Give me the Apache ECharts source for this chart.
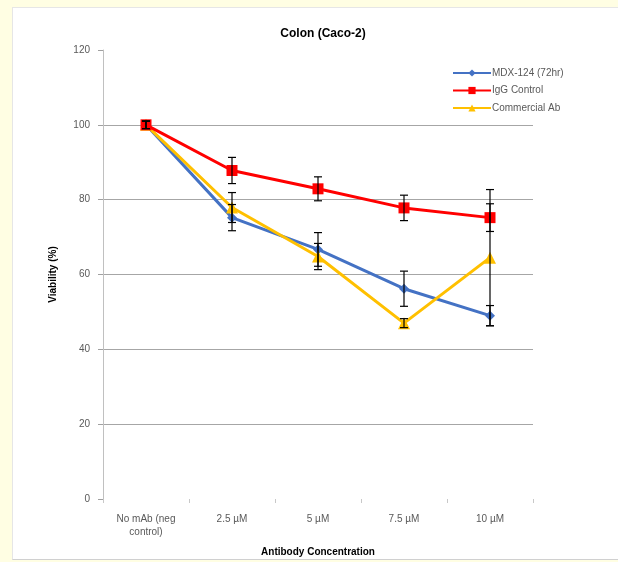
<!DOCTYPE html>
<html>
<head>
<meta charset="utf-8">
<script src="https://cdn.jsdelivr.net/npm/echarts@6/dist/echarts.min.js"></script>
<style>
  html, body { margin: 0; padding: 0; background: #fffee3; }
  #frame { position: absolute; left: 12px; top: 7px; width: 606px; height: 553px; background: #ffffff; border-left: 1px solid #e6e6e6; border-top: 1px solid #e6e6e6; border-bottom: 1px solid #d0d0d0; box-sizing: border-box; }
  #chart { position: absolute; left: 0; top: 0; width: 618px; height: 562px; }
</style>
</head>
<body>
<div id="frame"></div>
<div id="chart"></div>
<script>
// Concentrations tested
const categories = ['No mAb (neg\ncontrol)', '2.5 µM', '5 µM', '7.5 µM', '10 µM'];

// Viability (%) and standard deviation for each treatment
const mdxValues = [100, 75.2, 66.7, 56.2, 49.0];
const mdxErrors = [1, 3.5, 4.5, 4.7, 2.7];
const iggValues = [100, 87.8, 82.9, 77.8, 75.2];
const iggErrors = [1, 3.5, 3.2, 3.4, 3.7];
const commValues = [100, 77.9, 64.8, 47.0, 64.5];
const commErrors = [1, 4.0, 3.5, 1.2, 18.2];

const yTicks = [0, 20, 40, 60, 80, 100, 120];

const chart = echarts.init(document.getElementById('chart'), null, { renderer: 'canvas' });

function errorData(values, errors) {
  return values.map((v, i) => [i, v - errors[i], v + errors[i]]);
}

function errorSeries(values, errors) {
  return {
    type: 'custom',
    z: 10,
    silent: true,
    renderItem: function (params, api) {
      const x = api.value(0);
      const lo = api.coord([x, api.value(1)]);
      const hi = api.coord([x, api.value(2)]);
      const cap = 4;
      const style = { stroke: '#000000', lineWidth: 1.2 };
      return {
        type: 'group',
        children: [
          { type: 'line', shape: { x1: lo[0], y1: lo[1], x2: hi[0], y2: hi[1] }, style: style },
          { type: 'line', shape: { x1: lo[0] - cap, y1: lo[1], x2: lo[0] + cap, y2: lo[1] }, style: style },
          { type: 'line', shape: { x1: hi[0] - cap, y1: hi[1], x2: hi[0] + cap, y2: hi[1] }, style: style }
        ]
      };
    },
    encode: { x: 0, y: [1, 2] },
    data: errorData(values, errors)
  };
}

const font = '"Liberation Sans", Arial, sans-serif';

chart.setOption({
  animation: false,
  backgroundColor: 'transparent',
  title: {
    text: 'Colon (Caco-2)',
    left: 318,
    textAlign: 'center',
    top: 23,
    textStyle: { fontFamily: font, fontSize: 12, fontWeight: 'bold', color: '#000000' }
  },
  legend: {
    orient: 'vertical',
    left: 447,
    top: 63,
    itemWidth: 38,
    itemHeight: 9,
    itemGap: 7.5,
    textStyle: { fontFamily: font, fontSize: 10, color: '#595959', padding: [0, 0, 0, -4] },
    data: ['MDX-124 (72hr)', 'IgG Control', 'Commercial Ab']
  },
  grid: { left: 103, right: 85, top: 50, bottom: 62 },
  xAxis: {
    type: 'category',
    data: categories,
    boundaryGap: true,
    name: 'Antibody Concentration',
    nameLocation: 'middle',
    nameGap: 48,
    nameTextStyle: { fontFamily: font, fontSize: 10, fontWeight: 'bold', color: '#000000' },
    axisLine: { show: false },
    axisTick: { show: true, length: 4, lineStyle: { color: '#c8c8c8' } },
    axisLabel: { fontFamily: font, fontSize: 10, color: '#595959', margin: 14, lineHeight: 13, verticalAlign: 'top' },
    splitLine: { show: false }
  },
  yAxis: {
    type: 'value',
    min: 0,
    max: 120,
    interval: 20,
    name: 'Viability (%)',
    nameLocation: 'middle',
    nameRotate: 90,
    nameGap: 45,
    nameTextStyle: { fontFamily: font, fontSize: 10, fontWeight: 'bold', color: '#000000' },
    axisLine: { show: true, lineStyle: { color: '#c0c0c0', width: 1 } },
    axisTick: { show: true, length: 5, inside: false, lineStyle: { color: '#a0a0a0' } },
    axisLabel: { fontFamily: font, fontSize: 10, color: '#595959', margin: 13,
      formatter: v => yTicks.includes(v) ? String(v) : '' },
    splitLine: { show: true, showMinLine: false, showMaxLine: false, lineStyle: { color: '#a6a6a6', width: 1 } }
  },
  series: [
    {
      name: 'MDX-124 (72hr)',
      type: 'line',
      data: mdxValues,
      symbol: 'diamond',
      symbolSize: 10,
      z: 3,
      itemStyle: { color: '#4472c4' },
      lineStyle: { color: '#4472c4', width: 3 }
    },
    {
      name: 'IgG Control',
      type: 'line',
      data: iggValues,
      symbol: 'rect',
      symbolSize: 11,
      z: 4,
      itemStyle: { color: '#ff0000' },
      lineStyle: { color: '#ff0000', width: 3 }
    },
    {
      name: 'Commercial Ab',
      type: 'line',
      data: commValues,
      symbol: 'triangle',
      symbolSize: 12,
      z: 3,
      itemStyle: { color: '#ffc000' },
      lineStyle: { color: '#ffc000', width: 3 }
    },
    errorSeries(mdxValues, mdxErrors),
    errorSeries(iggValues, iggErrors),
    errorSeries(commValues, commErrors)
  ]
});
</script>
</body>
</html>
